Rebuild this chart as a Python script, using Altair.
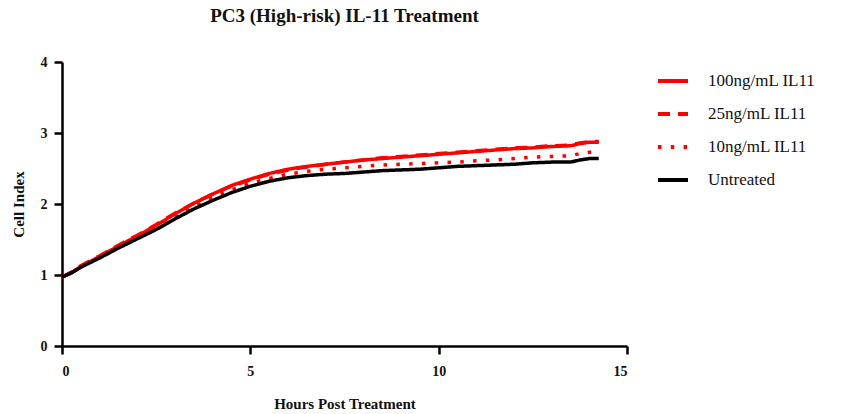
import altair as alt
import pandas as pd

hours = [0, 0.25, 0.5, 1, 1.5, 2, 2.5, 3, 3.5, 4, 4.5, 5, 5.5, 6, 6.5, 7, 7.5,
         8, 8.5, 9, 9.5, 10, 10.5, 11, 11.5, 12, 12.5, 13, 13.5, 13.75, 14, 14.25]

ng100 = [0.97, 1.03, 1.12, 1.26, 1.41, 1.55, 1.70, 1.86, 2.01, 2.14, 2.26, 2.35,
         2.43, 2.49, 2.53, 2.56, 2.59, 2.62, 2.64, 2.66, 2.68, 2.70, 2.72, 2.74,
         2.76, 2.78, 2.79, 2.81, 2.82, 2.85, 2.87, 2.87]
ng25 = [0.97, 1.04, 1.13, 1.27, 1.42, 1.56, 1.71, 1.87, 2.01, 2.14, 2.25, 2.34,
        2.42, 2.48, 2.52, 2.56, 2.59, 2.62, 2.65, 2.67, 2.69, 2.71, 2.73, 2.75,
        2.77, 2.79, 2.80, 2.82, 2.83, 2.86, 2.88, 2.88]
ng10 = [0.97, 1.03, 1.12, 1.25, 1.40, 1.53, 1.67, 1.82, 1.96, 2.09, 2.20, 2.29,
        2.36, 2.42, 2.46, 2.49, 2.51, 2.53, 2.55, 2.56, 2.57, 2.58, 2.59, 2.61,
        2.62, 2.64, 2.66, 2.67, 2.68, 2.71, 2.73, 2.73]
untreated = [0.97, 1.03, 1.11, 1.24, 1.38, 1.51, 1.64, 1.79, 1.93, 2.05, 2.16, 2.25,
             2.32, 2.37, 2.40, 2.42, 2.43, 2.45, 2.47, 2.48, 2.49, 2.51, 2.53, 2.54,
             2.55, 2.56, 2.58, 2.59, 2.59, 2.62, 2.64, 2.64]

series_names = ["100ng/mL IL11", "25ng/mL IL11", "10ng/mL IL11", "Untreated"]
series_values = [ng100, ng25, ng10, untreated]

rows = []
for name, vals in zip(series_names, series_values):
    for h, v in zip(hours, vals):
        rows.append({"Hours": h, "Cell Index": v, "Group": name})
df = pd.DataFrame(rows)

FONT = "Liberation Serif"

legend = alt.Legend(
    title=None,
    orient="none",
    legendX=594,
    legendY=2,
    symbolType="stroke",
    symbolSize=900,
    symbolStrokeWidth=4,
    labelFont=FONT,
    labelFontSize=17,
    labelColor="#111111",
    labelOffset=18,
    rowPadding=8,
    padding=0,
)

chart = alt.Chart(df).mark_line(strokeWidth=3.5, strokeCap="butt").encode(
    x=alt.X("Hours:Q", scale=alt.Scale(domain=[0, 15], nice=False),
            axis=alt.Axis(values=[0, 5, 10, 15], title="Hours Post Treatment",
                          labelPadding=10, titlePadding=18)),
    y=alt.Y("Cell Index:Q", scale=alt.Scale(domain=[0, 4], nice=False),
            axis=alt.Axis(values=[0, 1, 2, 3, 4], title="Cell Index",
                          labelPadding=7, titlePadding=14)),
    color=alt.Color("Group:N", scale=alt.Scale(domain=series_names,
                    range=["#ff0000", "#ff0000", "#ff0000", "#000000"]), legend=legend),
    strokeDash=alt.StrokeDash("Group:N", scale=alt.Scale(domain=series_names,
                              range=[[1, 0], [12, 8], [3.5, 9.3], [1, 0]]), legend=legend),
    order=alt.Order("Hours:Q"),
).properties(
    width=565,
    height=284,
    background="white",
    autosize=alt.AutoSizeParams(type="none"),
    padding={"left": 62, "top": 62, "right": 234, "bottom": 68},
    title=alt.TitleParams("PC3 (High-risk) IL-11 Treatment", font=FONT, fontSize=19,
                          fontWeight="bold", anchor="middle", offset=29, color="#111111"),
).configure_view(stroke=None).configure_axis(
    grid=False,
    domainColor="#000000",
    domainWidth=2.5,
    tickColor="#000000",
    tickWidth=2.5,
    tickSize=8,
    labelFont=FONT,
    labelFontSize=14,
    labelFontWeight="bold",
    labelColor="#111111",
    titleFont=FONT,
    titleFontSize=15,
    titleFontWeight="bold",
    titleColor="#111111",
)

chart.save("out.html", embed_options={"renderer": "svg", "actions": False})
